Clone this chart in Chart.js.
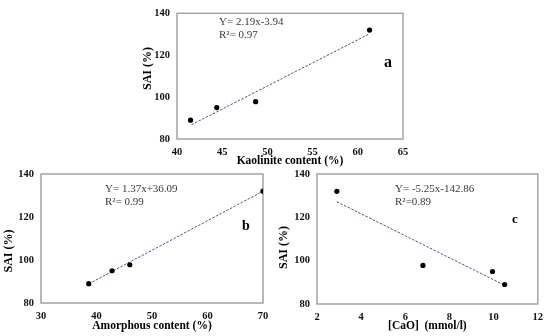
<!DOCTYPE html>
<html>
<head>
<meta charset="utf-8">
<script src="https://cdn.jsdelivr.net/npm/chart.js@4.4.1/dist/chart.umd.min.js"></script>
<style>
    body { margin: 0; background: #fff; }
    #wrap { position: relative; width: 550px; height: 336px; }
    #wrap canvas { position: absolute; left: 0; top: 0; }
</style>
</head>
<body>
<div id="wrap">
    <canvas id="chart_a" width="550" height="336"></canvas>
    <canvas id="chart_b" width="550" height="336"></canvas>
    <canvas id="chart_c" width="550" height="336"></canvas>
</div>
<script>
// SAI (%) for the four samples, same order in every panel
const sai = [89, 95, 97.8, 132];
const kaolinite = [41.5, 44.4, 48.7, 61.3];
const amorphous = [38.6, 42.8, 46.0, 70.0];
const cao = [10.5, 9.95, 6.8, 2.9];

// fitted lines, end points
const trendA_x = [41.6, 61.2], trendA_y = [86.8, 130.0];
const trendB_x = [38.6, 70.0], trendB_y = [88.9, 132.0];
const trendC_x = [2.9, 10.47], trendC_y = [127.2, 88.8];

const saiTicks = [80, 100, 120, 140];

Chart.defaults.font.family = "'Liberation Serif', 'Times New Roman', serif";
Chart.defaults.color = '#111';

function pairs(xs, ys) {
    return xs.map(function(x, i) { return {x: x, y: ys[i]}; });
}

// frame around the plot area, y title, equation text and panel letter
const panelNotes = {
    id: 'notes',
    beforeDatasetsDraw: function(chart) {
        var a = chart.chartArea, ctx = chart.ctx;
        ctx.save();
        ctx.strokeStyle = '#a3a3a3';
        ctx.lineWidth = 1.5;
        ctx.strokeRect(a.left, a.top, a.right - a.left, a.bottom - a.top);
        ctx.restore();
    },
    afterDraw: function(chart, args, opts) {
        var ctx = chart.ctx;
        ctx.save();
        // y axis title (Excel places it a bit off centre)
        ctx.fillStyle = '#000';
        ctx.font = "bold 12px 'Liberation Serif', serif";
        ctx.textAlign = 'center';
        ctx.textBaseline = 'middle';
        ctx.translate(opts.tx, opts.ty);
        ctx.rotate(-Math.PI / 2);
        ctx.fillText('SAI (%)', 0, 0);
        ctx.restore();

        ctx.save();
        ctx.fillStyle = '#3a3a3a';
        ctx.font = "11px 'Liberation Serif', serif";
        ctx.textBaseline = 'middle';
        ctx.textAlign = 'left';
        opts.lines.forEach(function(t, i) {
            ctx.fillText(t, opts.x, opts.y + i * 13.5);
        });
        ctx.fillStyle = '#000';
        ctx.font = "bold " + opts.letterSize + "px 'Liberation Serif', serif";
        ctx.textAlign = 'center';
        ctx.fillText(opts.letter, opts.lx, opts.ly);
        ctx.restore();
    }
};

function makePanel(id, xs, trendX, trendY, xScale, xTitle, pad, yWidth, xHeight, notes) {
    return new Chart(document.getElementById(id), {
        type: 'scatter',
        data: {
            datasets: [{
                data: pairs(xs, sai),
                backgroundColor: '#000',
                borderWidth: 0,
                pointRadius: 2.6
            }, {
                type: 'line',
                data: pairs(trendX, trendY),
                borderColor: '#3b5a8e',
                borderWidth: 1,
                borderDash: [2.5, 1.5],
                pointRadius: 0,
                fill: false
            }]
        },
        options: {
            responsive: false,
            animation: false,
            layout: { padding: pad },
            plugins: {
                legend: { display: false },
                tooltip: { enabled: false },
                notes: notes
            },
            scales: {
                x: {
                    type: 'linear',
                    min: xScale.min,
                    max: xScale.max,
                    grid: { display: false, drawTicks: false },
                    border: { display: false },
                    ticks: { stepSize: xScale.step, padding: 7, font: { size: 10.5, weight: 'bold' }, color: '#111' },
                    title: { display: true, text: xTitle, padding: 0, font: { size: 11.5, weight: 'bold' }, color: '#000' },
                    afterFit: function(s) { s.height = xHeight; }
                },
                y: {
                    min: 80,
                    max: 140,
                    grid: { display: false, drawTicks: false },
                    border: { display: false },
                    afterBuildTicks: function(s) { s.ticks = saiTicks.map(function(v) { return {value: v}; }); },
                    ticks: { padding: 7, font: { size: 10.5, weight: 'bold' }, color: '#111' },
                    title: { display: false },
                    afterFit: function(s) { s.width = yWidth; }
                }
            }
        },
        plugins: [panelNotes]
    });
}

document.addEventListener("DOMContentLoaded", function() {
    makePanel('chart_a', kaolinite, trendA_x, trendA_y,
        {min: 40, max: 65, step: 5}, 'Kaolinite content (%)',
        {left: 141, right: 147, top: 8, bottom: 168}, 36, 29,
        {tx: 148, ty: 68.5, lines: ['Y= 2.19x-3.94', 'R\u00b2= 0.97'], x: 219, y: 22, letter: 'a', lx: 388, ly: 63, letterSize: 16});

    makePanel('chart_b', amorphous, trendB_x, trendB_y,
        {min: 30, max: 70, step: 10}, 'Amorphous content (%)',
        {left: 2, right: 287, top: 174, bottom: 3}, 39, 30,
        {tx: 9, ty: 251, lines: ['Y= 1.37x+36.09', 'R\u00b2= 0.99'], x: 105, y: 189, letter: 'b', lx: 246, ly: 226, letterSize: 14});

    makePanel('chart_c', cao, trendC_x, trendC_y,
        {min: 2, max: 12, step: 2}, '[CaO]  (mmol/l)',
        {left: 277, right: 10, top: 174, bottom: 3}, 40, 29,
        {tx: 284, ty: 247.5, lines: ['Y= -5.25x-142.86', 'R\u00b2=0.89'], x: 395, y: 189, letter: 'c', lx: 515, ly: 220, letterSize: 13});
});
</script>
</body>
</html>
